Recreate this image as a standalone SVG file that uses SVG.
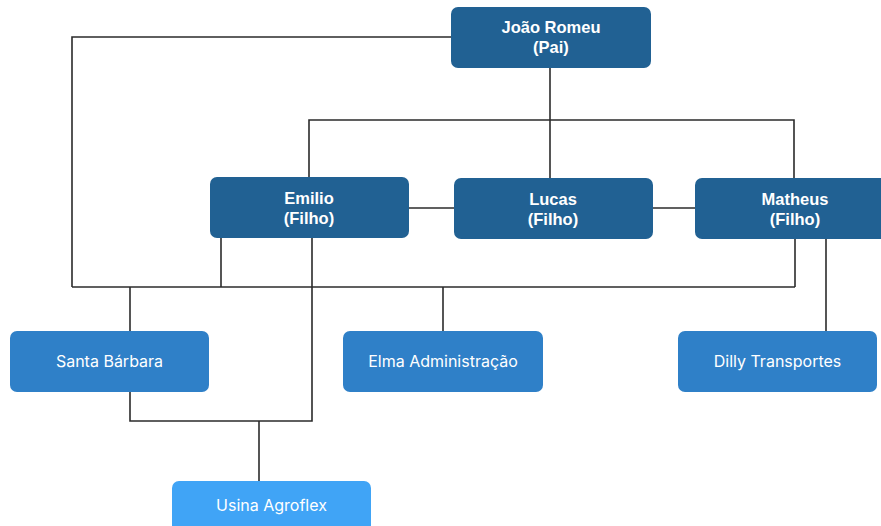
<svg xmlns="http://www.w3.org/2000/svg" width="881" height="526" viewBox="0 0 881 526">
<style>
.dk{fill:#216193}
.md{fill:#2F80C8}
.lt{fill:#40A4F6}
.t1{font-family:"Liberation Sans",Arial,sans-serif;font-weight:700;font-size:16.5px;fill:#fff;text-anchor:middle}
.t2{font-family:"Inter","Liberation Sans",sans-serif;font-size:16px;fill:#fff;text-anchor:middle}
.ln{fill:none;stroke:#2b2b2b;stroke-width:1.6}
</style>
<rect width="881" height="526" fill="#fff"/>
<g id="connectors" class="ln">
<polyline points="451,37 72,37 72,287"/>
<line x1="72" y1="287" x2="795" y2="287"/>
<line x1="221" y1="238" x2="221" y2="287"/>
<line x1="130" y1="287" x2="130" y2="331"/>
<line x1="443" y1="287" x2="443" y2="331"/>
<line x1="795" y1="238" x2="795" y2="287"/>
<line x1="826" y1="238" x2="826" y2="331"/>
<line x1="550" y1="67" x2="550" y2="178"/>
<polyline points="309,177 309,120 794,120 794,178"/>
<line x1="409" y1="208" x2="454" y2="208"/>
<line x1="653" y1="208" x2="695" y2="208"/>
<polyline points="312,238 312,421 130,421 130,392"/>
<line x1="259" y1="421" x2="259" y2="481"/>
</g>
<g id="joao"><rect class="dk" x="451" y="7" width="200" height="61" rx="7"/><text class="t1" x="551" y="33">João Romeu</text><text class="t1" x="551" y="53">(Pai)</text></g>
<g id="emilio"><rect class="dk" x="210" y="177" width="199" height="61" rx="7"/><text class="t1" x="309" y="204">Emilio</text><text class="t1" x="309" y="224">(Filho)</text></g>
<g id="lucas"><rect class="dk" x="454" y="178" width="199" height="61" rx="7"/><text class="t1" x="553" y="205">Lucas</text><text class="t1" x="553" y="225">(Filho)</text></g>
<g id="matheus"><rect class="dk" x="695" y="178" width="199" height="61" rx="7"/><text class="t1" x="795" y="205">Matheus</text><text class="t1" x="795" y="225">(Filho)</text></g>
<g id="santa"><rect class="md" x="10" y="331" width="199" height="61" rx="7"/><text class="t2" x="109.500" y="367">Santa Bárbara</text></g>
<g id="elma"><rect class="md" x="343" y="331" width="200" height="61" rx="7"/><text class="t2" x="443" y="367">Elma Administração</text></g>
<g id="dilly"><rect class="md" x="678" y="331" width="199" height="61" rx="7"/><text class="t2" x="777.500" y="367">Dilly Transportes</text></g>
<g id="usina"><rect class="lt" x="172" y="481" width="199" height="61" rx="7"/><text class="t2" x="271.500" y="511">Usina Agroflex</text></g>
</svg>
